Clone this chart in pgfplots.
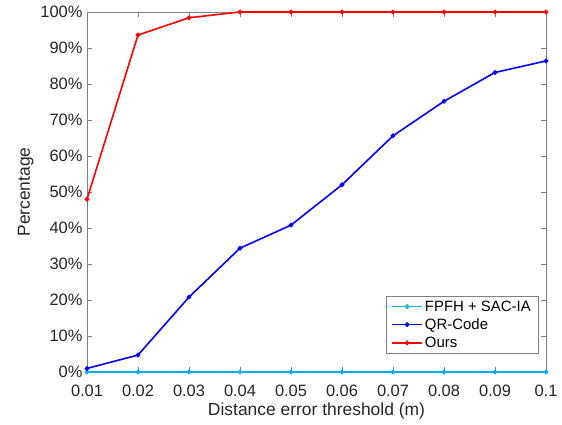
\documentclass[border=0pt]{standalone}
\usepackage{pgfplots}
\pgfplotsset{compat=1.18}
\usepackage{fontspec}
\setmainfont{Liberation Sans}
\usetikzlibrary{calc}
\definecolor{axgray}{RGB}{128,128,128}
\definecolor{txtgray}{RGB}{38,38,38}

\begin{document}
\begin{tikzpicture}
\begin{axis}[
  name=ax,
  scale only axis,
  width=459bp, height=360bp,
  xmin=0.01, xmax=0.1, ymin=0, ymax=100,
  xtick={0.01,0.02,...,0.1},
  xticklabels={0.01,0.02,0.03,0.04,0.05,0.06,0.07,0.08,0.09,0.1},
  ytick={0,10,...,100},
  yticklabel={\pgfmathprintnumber{\tick}\%},
  /pgf/number format/assume math mode=true,
  tick align=inside,
  major tick length=5bp,
  axis line style={axgray, line width=0.6pt},
  every tick/.style={axgray, line width=0.6pt},
  tick label style={font=\fontsize{16.5}{18}\selectfont, text=txtgray},
  xticklabel style={yshift=-9bp},
  yticklabel style={xshift=-1bp},
  xlabel={Distance error threshold (m)},
  ylabel={Percentage},
  label style={font=\fontsize{17.5}{20}\selectfont, text=txtgray},
  xlabel style={yshift=0bp},
  legend style={at={(0.9826,0.053)}, anchor=south east, draw=axgray,
    font=\fontsize{15}{17}\selectfont, row sep=2bp, inner xsep=5bp, inner ysep=2bp},
  legend cell align=left,
  legend image code/.code={\draw[mark repeat=2,mark phase=2]
    plot coordinates {(0cm,0cm) (0.53cm,0cm) (1.06cm,0cm)};},
  legend image post style={line width=1.6pt},
  every axis plot/.append style={line width=1.6pt, mark=*, mark size=1.5pt},
  clip=false,
]
\addplot[cyan] coordinates {
  (0.01,0) (0.02,0) (0.03,0) (0.04,0) (0.05,0)
  (0.06,0) (0.07,0) (0.08,0) (0.09,0) (0.10,0)
};
\addplot[blue] coordinates {
  (0.01,1.0) (0.02,4.7) (0.03,20.8) (0.04,34.4) (0.05,40.8)
  (0.06,52.0) (0.07,65.6) (0.08,75.2) (0.09,83.2) (0.10,86.4)
};
\addplot[red] coordinates {
  (0.01,48.0) (0.02,93.6) (0.03,98.4) (0.04,100) (0.05,100)
  (0.06,100) (0.07,100) (0.08,100) (0.09,100) (0.10,100)
};
\legend{FPFH + SAC-IA, QR-Code, Ours}
\end{axis}
\pgfresetboundingbox
\path ($(ax.south west)+(-87bp,-52bp)$) rectangle ($(ax.north east)+(16bp,12bp)$);
\end{tikzpicture}
\end{document}
